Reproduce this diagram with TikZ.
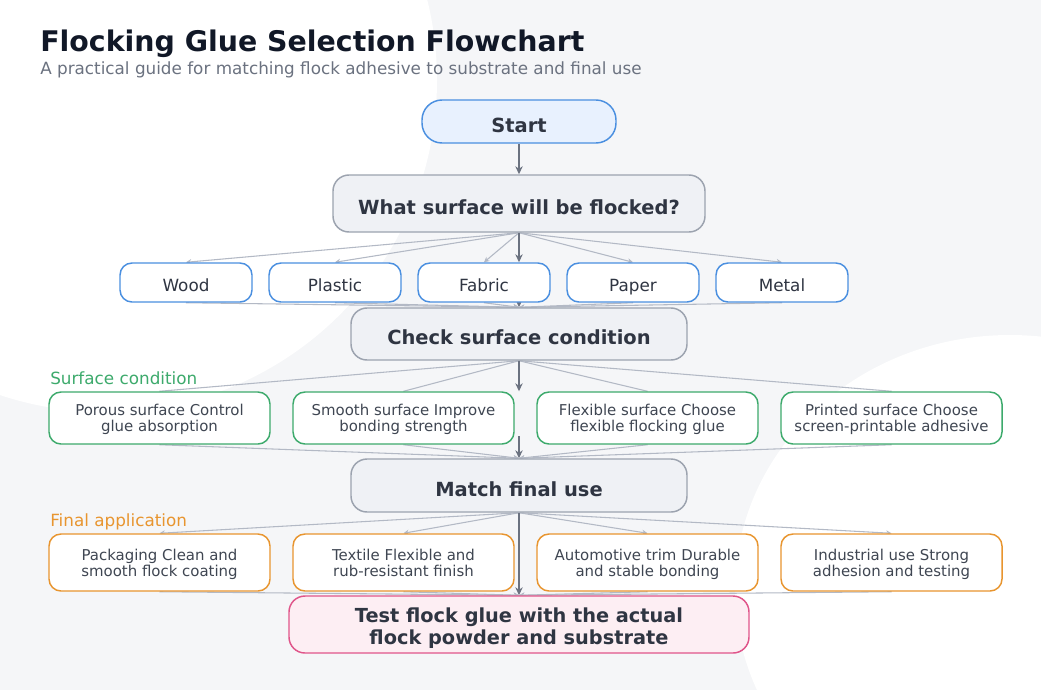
\documentclass[tikz,border=0pt]{standalone}
\usepackage{fontspec}
\setmainfont{DejaVu Sans}
\usetikzlibrary{arrows.meta,positioning}
\definecolor{bggray}{HTML}{F5F6F8}
\definecolor{titlec}{HTML}{111827}
\definecolor{subc}{HTML}{6B7280}
\definecolor{txtc}{HTML}{2F3542}
\definecolor{txtl}{HTML}{3F4652}
\definecolor{blueb}{HTML}{4A8FE0}
\definecolor{bluef}{HTML}{E8F1FE}
\definecolor{grayb}{HTML}{9CA3AF}
\definecolor{grayf}{HTML}{EFF1F5}
\definecolor{greenb}{HTML}{3DAA6C}
\definecolor{orangeb}{HTML}{E8952F}
\definecolor{pinkb}{HTML}{E0558A}
\definecolor{pinkf}{HTML}{FDEEF3}
\definecolor{darkl}{HTML}{6B7280}
\definecolor{lightl}{HTML}{B3B9C5}
\pgfdeclarelayer{bg}
\pgfdeclarelayer{edges}
\pgfsetlayers{bg,edges,main}
\newcommand\pxu[1]{#1*0.75pt}
\def\txtshift{0pt}
\newcommand\nodetxt[1]{\raisebox{-\txtshift}[\height][\depth]{\begin{tabular}{@{}c@{}}#1\end{tabular}}}
\tikzset{
  box/.style={draw, line width=1.1pt, text=txtc, inner sep=0pt},
  startbox/.style={box, draw=blueb, fill=bluef, minimum width=\pxu{194}, minimum height=\pxu{43}, rounded corners=\pxu{20}, font={\fontsize{14.6pt}{17pt}\selectfont\bfseries\def\txtshift{4.5pt}}},
  qbox/.style={box, draw=grayb, fill=grayf, rounded corners=\pxu{16}, font={\fontsize{14.6pt}{17pt}\selectfont\bfseries\def\txtshift{4.5pt}}},
  surfbox/.style={box, draw=blueb, fill=white, minimum width=\pxu{132}, minimum height=\pxu{39}, rounded corners=\pxu{12}, font={\fontsize{12.6pt}{14pt}\selectfont\def\txtshift{4pt}}},
  condbox/.style={box, draw=greenb, fill=white, minimum width=\pxu{221}, minimum height=\pxu{52}, rounded corners=\pxu{12}, text=txtl, font={\fontsize{11.2pt}{12pt}\selectfont\def\txtshift{1.5pt}}},
  finbox/.style={box, draw=orangeb, fill=white, minimum width=\pxu{221}, minimum height=\pxu{57}, rounded corners=\pxu{12}, text=txtl, font={\fontsize{11.2pt}{12pt}\selectfont\def\txtshift{2.2pt}}},
  testbox/.style={box, draw=pinkb, fill=pinkf, minimum width=\pxu{460}, minimum height=\pxu{57}, rounded corners=\pxu{16}, font={\fontsize{14.5pt}{16.5pt}\selectfont\bfseries\def\txtshift{3.8pt}}},
  darkarrow/.style={draw=darkl, line width=1.5pt, -{Stealth[length=6pt,width=5.5pt]}},
  lightarrow/.style={draw=lightl, line width=0.8pt, -{Stealth[length=4pt,width=4pt]}},
  lightline/.style={draw=lightl, line width=0.8pt},
  grouplabel/.style={anchor=base west, inner sep=0pt, font=\fontsize{12.6pt}{14pt}\selectfont},
}
\begin{document}
\begin{tikzpicture}[x=0.75pt,y=-0.75pt]
\useasboundingbox (0,0) rectangle (1041,690);
\begin{pgfonlayer}{bg}
  \fill[bggray] (0,0) rectangle (1041,690);
  \begin{scope}
    \clip (0,0) rectangle (1041,690);
    \fill[white] (105,80) circle [radius=332];
    \fill[white] (1010,590) ellipse [x radius=275, y radius=255];
  \end{scope}
\end{pgfonlayer}

% title
\node[anchor=base west, inner sep=0pt, text=titlec, font=\fontsize{21.3pt}{26pt}\selectfont\bfseries] (title) at (40,51) {Flocking Glue Selection Flowchart};
\node[anchor=base west, inner sep=0pt, text=subc, font=\fontsize{12.6pt}{15pt}\selectfont] (subtitle) at (40,74) {A practical guide for matching flock adhesive to substrate and final use};

% main nodes
\node[startbox] (start) at (519,121.5) {\nodetxt{Start}};
\node[qbox, minimum width=\pxu{372}, minimum height=\pxu{57}] (q) at (519,203.5) {\nodetxt{What surface will be flocked?}};

\node[surfbox] (wood) at (186,282.5) {\nodetxt{Wood}};
\node[surfbox] (plastic) at (335,282.5) {\nodetxt{Plastic}};
\node[surfbox] (fabric) at (484,282.5) {\nodetxt{Fabric}};
\node[surfbox] (paper) at (633,282.5) {\nodetxt{Paper}};
\node[surfbox] (metal) at (782,282.5) {\nodetxt{Metal}};

\node[qbox, minimum width=\pxu{336}, minimum height=\pxu{52}] (check) at (519,334) {\nodetxt{Check surface condition}};

\node[grouplabel, text=greenb] (lblcond) at (50,384) {Surface condition};
\node[condbox] (porous) at (159.5,418) {\nodetxt{Porous surface Control\\glue absorption}};
\node[condbox] (smooth) at (403.5,418) {\nodetxt{Smooth surface Improve\\bonding strength}};
\node[condbox] (flex) at (647.5,418) {\nodetxt{Flexible surface Choose\\flexible flocking glue}};
\node[condbox] (printed) at (891.5,418) {\nodetxt{Printed surface Choose\\screen-printable adhesive}};

\node[qbox, minimum width=\pxu{336}, minimum height=\pxu{53}] (match) at (519,485.5) {\nodetxt{Match final use}};

\node[grouplabel, text=orangeb] (lblfin) at (50,526) {Final application};
\node[finbox] (pack) at (159.5,562.5) {\nodetxt{Packaging Clean and\\smooth flock coating}};
\node[finbox] (textile) at (403.5,562.5) {\nodetxt{Textile Flexible and\\rub-resistant finish}};
\node[finbox] (auto) at (647.5,562.5) {\nodetxt{Automotive trim Durable\\and stable bonding}};
\node[finbox] (indus) at (891.5,562.5) {\nodetxt{Industrial use Strong\\adhesion and testing}};

\node[testbox] (test) at (519,624.5) {\nodetxt{Test flock glue with the actual\\flock powder and substrate}};

\coordinate (c2) at (519,436);

\begin{pgfonlayer}{edges}
  % light fan edges
  \foreach \n in {wood,plastic,fabric,paper,metal}{
    \draw[lightarrow] (q.south) -- (\n.north);
    \draw[lightarrow] (\n.south) -- (check.north);
  }
  \foreach \n in {porous,smooth,flex,printed}{
    \draw[lightline] (check.south) -- (\n.north);
    \draw[lightarrow] (\n.south) -- (match.north);
  }
  \foreach \n in {pack,textile,auto,indus}{
    \draw[lightarrow] (match.south) -- (\n.north);
    \draw[lightarrow] (\n.south) -- (test.north);
  }
  % dark spine
  \draw[darkarrow] (start.south) -- (q.north);
  \draw[darkarrow] (q.south) -- (q.south |- fabric.north);
  \draw[darkarrow] (q.south |- fabric.south) -- (check.north);
  \draw[darkarrow] (check.south) -- (check.south |- smooth.north);
  \draw[darkarrow] (c2) -- (match.north);
  \draw[darkarrow] (match.south) -- (test.north);
\end{pgfonlayer}
\end{tikzpicture}
\end{document}
